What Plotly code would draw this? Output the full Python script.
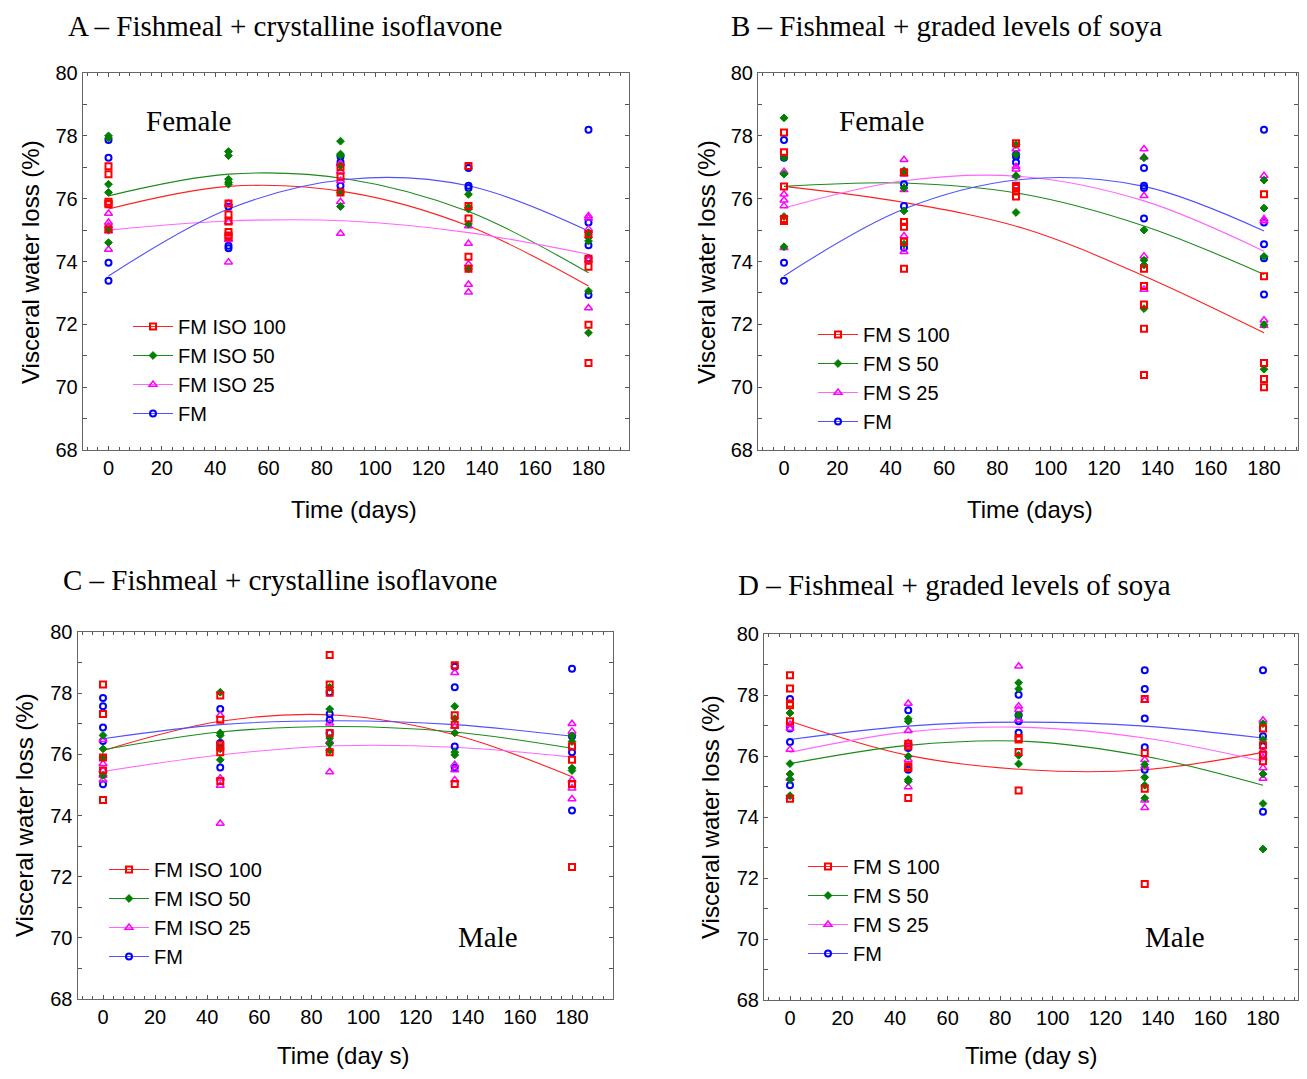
import plotly.graph_objects as go

W, H = 1307, 1079          # target screenshot size
BODY = 8                   # default page margin of the html body
FW, FH = W - 2 * BODY, H - 2 * BODY

# ---------------- data ----------------
DAYS = [0, 45, 87, 135, 180]
CURVE_DAYS = [0, 45, 90, 135, 180]
X_TICKS = [0, 20, 40, 60, 80, 100, 120, 140, 160, 180]
Y_TICKS = [68, 70, 72, 74, 76, 78, 80]

# Panel A (female, crystalline isoflavone)
A_ISO100 = [[77.03, 76.78, 75.90, 75.85, 75.82, 75.03], [75.85, 75.50, 75.27, 74.94, 74.83, 74.78],
            [77.00, 76.70, 76.20], [77.04, 75.77, 75.37, 74.15, 73.77], [74.87, 74.09, 73.83, 71.99, 70.77]]
A_ISO50 = [[78.00, 77.93, 76.46, 76.20, 75.00, 74.60], [77.50, 77.37, 76.62, 76.52, 76.46],
           [77.83, 77.42, 77.37, 77.05, 76.20, 75.75], [76.14, 75.72, 75.67, 75.19, 73.77],
           [74.92, 74.76, 74.65, 73.06, 71.73]]
A_ISO25 = [[75.53, 75.24, 75.13, 74.97, 74.38], [75.85, 75.26, 74.69, 73.98],
           [77.12, 76.87, 76.57, 75.90, 74.89], [75.13, 74.57, 73.91, 73.27, 73.02],
           [75.45, 75.38, 75.03, 74.04, 72.52]]
A_FM = [[77.87, 77.30, 73.96, 73.39], [75.74, 74.50, 74.42], [77.34, 77.16, 76.41],
        [76.98, 76.41, 76.34], [78.19, 75.24, 74.52, 74.10, 72.93]]
A_FIT100 = [75.67, 76.39, 76.20, 75.13, 73.22]
A_FIT50 = [76.09, 76.78, 76.62, 75.59, 73.64]
A_FIT25 = [75.00, 75.29, 75.29, 74.92, 74.23]
A_FITFM = [73.54, 75.67, 76.62, 76.41, 74.97]

# Panel B (female, graded soya)
B_S100 = [[78.11, 77.48, 76.39, 75.35, 75.29], [76.84, 75.26, 75.11, 74.63, 73.77],
          [77.76, 76.41, 76.34, 76.23, 76.07], [73.77, 73.22, 72.63, 71.86, 70.39],
          [76.14, 73.53, 70.77, 70.26, 70.00]]
B_S50 = [[78.57, 77.30, 76.78, 75.43, 74.47], [76.89, 76.84, 76.34, 75.61, 74.55],
         [77.72, 77.40, 76.73, 75.56], [77.30, 75.00, 74.04, 73.89, 72.50],
         [76.59, 75.70, 74.16, 71.99, 70.57]]
B_S25 = [[76.86, 76.14, 75.95, 75.77, 74.44], [77.24, 76.78, 76.28, 74.81, 74.31],
         [77.58, 77.02, 76.94, 76.73], [77.58, 77.32, 76.09, 74.17, 73.11],
         [76.73, 75.35, 75.29, 72.13, 71.96]]
B_FM = [[77.87, 77.30, 73.96, 73.39], [76.46, 75.77, 74.44], [77.40, 77.34, 77.16, 76.41],
        [76.98, 76.41, 76.34, 75.37], [78.19, 75.24, 74.55, 74.10, 72.95]]
B_FIT100 = [76.39, 75.88, 75.05, 73.54, 71.73]
B_FIT50 = [76.39, 76.50, 76.14, 75.13, 73.59]
B_FIT25 = [75.70, 76.57, 76.70, 75.93, 74.33]
B_FITFM = [73.54, 75.67, 76.62, 76.39, 74.97]

# Panel C (male, crystalline isoflavone)
C_ISO100 = [[78.28, 77.32, 75.90, 75.47, 74.51], [77.92, 77.13, 76.31, 76.23, 76.07, 75.13],
            [79.25, 78.28, 78.01, 76.70, 76.07], [78.91, 77.28, 76.97, 75.03],
            [76.26, 75.82, 75.03, 72.32]]
C_ISO50 = [[76.62, 76.18, 75.90, 75.31], [78.03, 76.70, 76.62, 76.18, 75.82],
           [78.19, 77.48, 76.53, 76.35, 76.13], [77.57, 77.17, 76.70, 76.07, 75.98],
           [76.61, 76.42, 75.55, 75.47]]
C_ISO25 = [[76.48, 75.69, 75.47, 75.31, 75.16], [77.28, 75.22, 74.98, 73.74],
           [77.02, 76.42, 75.42], [78.67, 76.91, 75.66, 75.49, 75.16],
           [77.00, 76.75, 75.16, 74.89, 74.54]]
C_FM = [[77.84, 77.57, 76.88, 76.44, 75.02], [77.48, 76.37, 75.57], [78.03, 77.32, 77.13, 76.70],
        [78.86, 78.19, 76.26, 75.57], [78.80, 76.59, 76.07, 74.16]]
C_FIT100 = [76.12, 77.08, 77.28, 76.64, 75.27]
C_FIT50 = [76.15, 76.73, 76.91, 76.73, 76.20]
C_FIT25 = [75.44, 75.98, 76.28, 76.23, 75.91]
C_FITFM = [76.51, 76.97, 77.10, 76.97, 76.59]

# Panel D (male, graded soya)
D_S100 = [[78.65, 78.21, 77.72, 77.66, 77.14, 74.60], [76.40, 76.32, 75.66, 75.61, 74.62],
          [76.59, 76.54, 76.13, 74.87], [77.87, 76.10, 74.93, 71.80], [76.90, 76.35, 76.05, 75.83]]
D_S50 = [[77.41, 75.75, 75.41, 75.23, 74.70], [77.22, 77.14, 75.99, 75.23, 75.17],
         [78.40, 78.20, 77.34, 76.02, 75.74], [75.72, 75.30, 75.04, 74.62],
         [77.06, 76.54, 75.41, 74.44, 72.95]]
D_S25 = [[77.03, 76.90, 76.21, 75.26, 74.66], [77.72, 76.83, 76.43, 75.88, 74.98],
         [78.94, 77.63, 77.52, 77.19], [77.82, 75.88, 75.66, 74.55, 74.30],
         [77.17, 76.16, 75.94, 75.61, 75.26]]
D_FM = [[77.87, 76.90, 76.46, 75.04], [77.50, 76.26, 75.55], [78.01, 77.34, 77.14, 76.76],
        [78.81, 78.20, 77.23, 76.29, 75.55], [78.81, 76.65, 76.32, 74.17]]
D_FIT100 = [77.14, 76.02, 75.55, 75.55, 76.12]
D_FIT50 = [75.75, 76.35, 76.48, 75.99, 75.04]
D_FIT25 = [76.12, 76.79, 76.94, 76.59, 75.83]
D_FITFM = [76.54, 76.98, 77.11, 76.98, 76.59]

ISO_NAMES = ["FM ISO 100", "FM ISO 50", "FM ISO 25", "FM"]
S_NAMES = ["FM S 100", "FM S 50", "FM S 25", "FM"]

# ---------------- styles ----------------
MARKERS = [
    dict(symbol="square-open", size=6, color="#ff0000", line=dict(width=2, color="#ff0000")),
    dict(symbol="diamond", size=6, color="#008000", line=dict(width=1, color="#008000")),
    dict(symbol="triangle-up-open", size=7, color="#ff00ff", line=dict(width=1.5, color="#ff00ff")),
    dict(symbol="circle-open", size=6, color="#0000ff", line=dict(width=2, color="#0000ff")),
]
LINE_COLORS = ["#ff2020", "#1a8a1a", "#ff66ff", "#5050ff"]


def PX(px):
    return (px - BODY) / FW


def PY(py):
    return 1 - (py - BODY) / FH


RIGHT_EDGE = BODY + FW
# panel geometry in page pixels: frame left, frame right, top, bottom, px of day 0, px of day 180
FRAMES = {
    1: (82.7, 629, 73, 450, 108.5, 588.5),
    2: (758, 1304, 73, 450, 784, 1264),
    3: (77.5, 613, 632, 999, 103, 572),
    4: (764, 1304, 634, 1000, 790, 1263),
}

PANELS = [
    (1, [A_ISO100, A_ISO50, A_ISO25, A_FM], [A_FIT100, A_FIT50, A_FIT25, A_FITFM], ISO_NAMES),
    (2, [B_S100, B_S50, B_S25, B_FM], [B_FIT100, B_FIT50, B_FIT25, B_FITFM], S_NAMES),
    (3, [C_ISO100, C_ISO50, C_ISO25, C_FM], [C_FIT100, C_FIT50, C_FIT25, C_FITFM], ISO_NAMES),
    (4, [D_S100, D_S50, D_S25, D_FM], [D_FIT100, D_FIT50, D_FIT25, D_FITFM], S_NAMES),
]

LEGEND_POS = {1: (128, 307), 2: (813, 315), 3: (104, 850), 4: (803, 847)}

fig = go.Figure()
SANS = "Liberation Sans, Arial, sans-serif"
SERIF = "Liberation Serif, Times New Roman, serif"

for idx, series, fits, names in PANELS:
    xa = "x" if idx == 1 else f"x{idx}"
    ya = "y" if idx == 1 else f"y{idx}"
    lg = "legend" if idx == 1 else f"legend{idx}"
    for k in range(4):
        fig.add_trace(go.Scatter(x=CURVE_DAYS, y=fits[k], mode="lines",
                                 line=dict(color=LINE_COLORS[k], width=1.1, shape="spline"),
                                 xaxis=xa, yaxis=ya, showlegend=False, hoverinfo="skip"))
    for k in [3, 2, 1, 0]:
        xs, ys = [], []
        for d, vals in zip(DAYS, series[k]):
            for v in vals:
                xs.append(d)
                ys.append(v)
        fig.add_trace(go.Scatter(x=xs, y=ys, mode="markers", marker=MARKERS[k],
                                 xaxis=xa, yaxis=ya, showlegend=False, name=names[k]))
    for k in range(4):
        fig.add_trace(go.Scatter(x=[None], y=[None], mode="lines+markers", name=names[k],
                                 marker=MARKERS[k], line=dict(color=LINE_COLORS[k], width=1.1),
                                 xaxis=xa, yaxis=ya, legend=lg, showlegend=True))

layout = dict(
    width=FW, height=FH, paper_bgcolor="white", plot_bgcolor="white",
    margin=dict(l=0, r=0, t=0, b=0, pad=0, autoexpand=False), showlegend=True,
    font=dict(family=SANS, color="black"),
)

for idx, (l, r, t, b, p0, p180) in FRAMES.items():
    r = min(r, RIGHT_EDGE - 1)
    scale = (p180 - p0) / 180.0
    x_lo = (l - p0) / scale
    x_hi = (r - p0) / scale
    xk = "xaxis" if idx == 1 else f"xaxis{idx}"
    yk = "yaxis" if idx == 1 else f"yaxis{idx}"
    xa = "x" if idx == 1 else f"x{idx}"
    ya = "y" if idx == 1 else f"y{idx}"
    layout[xk] = dict(
        domain=[PX(l), PX(r)], anchor=ya, range=[x_lo, x_hi], automargin=False,
        tickmode="array", tickvals=X_TICKS, ticktext=[str(v) for v in X_TICKS],
        ticks="inside", ticklen=4, tickcolor="#555", tickwidth=1,
        showline=True, linecolor="#666", linewidth=1, mirror="allticks",
        minor=dict(dtick=4, tick0=0, ticks="inside", ticklen=3, tickcolor="#555"),
        showgrid=False, zeroline=False, tickfont=dict(size=20, family=SANS, color="black"),
    )
    layout[yk] = dict(
        domain=[PY(b), PY(t)], anchor=xa, range=[68, 80], automargin=False,
        tickmode="array", tickvals=Y_TICKS, ticktext=[str(v) for v in Y_TICKS],
        ticks="inside", ticklen=4, tickcolor="#555", tickwidth=1,
        showline=True, linecolor="#666", linewidth=1, mirror="allticks",
        minor=dict(dtick=1, tick0=68, ticks="inside", ticklen=4, tickcolor="#555"),
        showgrid=False, zeroline=False, tickfont=dict(size=20, family=SANS, color="black"),
    )
    lk = "legend" if idx == 1 else f"legend{idx}"
    lx, ly = LEGEND_POS[idx]
    layout[lk] = dict(x=PX(lx), y=PY(ly), xanchor="left", yanchor="top",
                      bgcolor="rgba(0,0,0,0)", borderwidth=0, itemwidth=40,
                      font=dict(size=20, family=SANS, color="black"), traceorder="normal")


def ann(text, px, py, size, family, xanchor="left", angle=0):
    return dict(text=text, x=PX(px), y=PY(py), xref="paper", yref="paper",
                xanchor=xanchor, yanchor="middle", showarrow=False, textangle=angle,
                borderpad=0, font=dict(size=size, family=family, color="black"))


annotations = [
    ann("A – Fishmeal + crystalline isoflavone", 67, 26, 29, SERIF),
    ann("B – Fishmeal + graded levels of soya", 730, 26, 29, SERIF),
    ann("C – Fishmeal + crystalline isoflavone", 62, 580, 29, SERIF),
    ann("D – Fishmeal + graded levels of soya", 737, 585, 29, SERIF),
    ann("Female", 145, 121, 29, SERIF),
    ann("Female", 838, 121, 29, SERIF),
    ann("Male", 457, 937, 29, SERIF),
    ann("Male", 1144, 937, 29, SERIF),
    ann("Time (days)", 354, 509, 24, SANS, "center"),
    ann("Time (days)", 1030, 509, 24, SANS, "center"),
    ann("Time (day s)", 343, 1055, 24, SANS, "center"),
    ann("Time (day s)", 1031, 1055, 24, SANS, "center"),
    ann("Visceral water loss (%)", 30, 262, 24, SANS, "center", -90),
    ann("Visceral water loss (%)", 706, 262, 24, SANS, "center", -90),
    ann("Visceral water loss (%)", 24, 815, 24, SANS, "center", -90),
    ann("Visceral water loss (%)", 710, 817, 24, SANS, "center", -90),
]
layout["annotations"] = annotations

fig.update_layout(**layout)
fig.write_html("out.html")
